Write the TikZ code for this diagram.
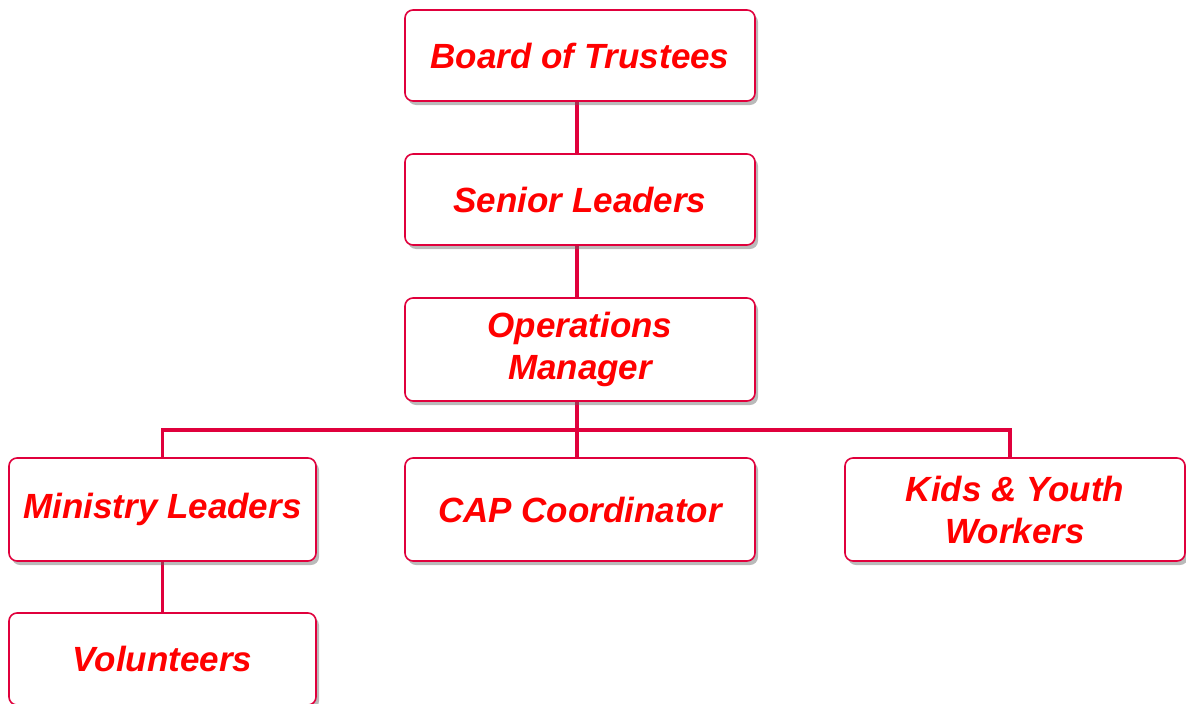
\documentclass[tikz,border=0pt]{standalone}
\usepackage{fontspec}
\setmainfont{Liberation Sans}
\usetikzlibrary{shadows,backgrounds}
\definecolor{crim}{HTML}{E0003C}
\definecolor{txtred}{HTML}{FF0000}
\tikzset{
  orgbox/.style={draw=crim, line width=1.6pt, rounded corners=8pt, fill=white,
    drop shadow={shadow xshift=3pt, shadow yshift=-4pt, opacity=0.45, fill=black!60},
    text=txtred, align=center, inner sep=0pt,
    font=\fontsize{35}{42}\selectfont\bfseries\itshape},
  link/.style={draw=crim, line width=3.5pt}
}
\begin{document}
\begin{tikzpicture}[x=1pt,y=-1pt]
\useasboundingbox (0,0) rectangle (1186,704);
\clip (0,0) rectangle (1186,704);
\node[orgbox, minimum width=350pt, minimum height=91pt] (board) at (580,55.5) {Board of Trustees};
\node[orgbox, minimum width=350pt, minimum height=91pt] (senior) at (580,199.5) {Senior Leaders};
\node[orgbox, minimum width=350pt, minimum height=103pt] (ops) at (580,349.5) {Operations\\Manager};
\node[orgbox, minimum width=307pt, minimum height=103pt] (ml) at (162.5,509.5) {Ministry Leaders};
\node[orgbox, minimum width=350pt, minimum height=103pt] (cap) at (580,509.5) {CAP Coordinator};
\node[orgbox, minimum width=340pt, minimum height=103pt] (kids) at (1015,509.5) {Kids \& Youth\\Workers};
\node[orgbox, minimum width=307pt, minimum height=92pt] (vol) at (162.5,659) {Volunteers};
\coordinate (j) at (577,430);
\coordinate (jr) at (1010,430);
\begin{scope}[on background layer]
\draw[link] (board.south -| j) -- (j |- senior.north);
\draw[link] (senior.south -| j) -- (j |- ops.north);
\draw[link] (ops.south -| j) -- (j |- cap.north);
\draw[link] (ml.north) |- (jr) -- (jr |- kids.north);
\draw[link] (ml.south) -- (vol.north);
\end{scope}
\end{tikzpicture}
\end{document}
